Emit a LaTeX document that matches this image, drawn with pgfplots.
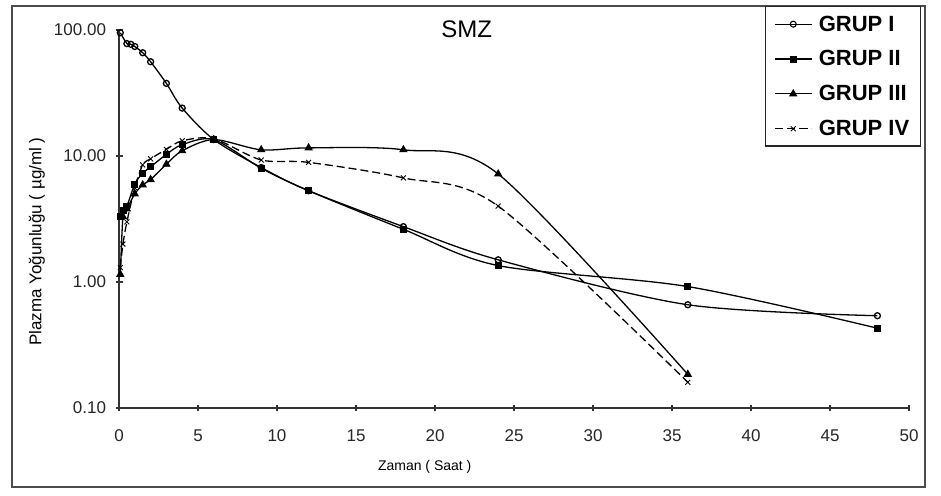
\documentclass[border=0pt]{standalone}
\usepackage{fontspec}
\setmainfont{Liberation Sans}
\usepackage{pgfplots}
\pgfplotsset{compat=1.18}
\begin{document}
\begin{tikzpicture}
\useasboundingbox (0,0) rectangle (941pt,495pt);
\fill[white] (0,0) rectangle (941pt,495pt);
\draw[line width=1.8pt, black!70] (12pt,8pt) rectangle (925pt,489pt);
\begin{axis}[
  at={(119pt,87pt)}, anchor=south west,
  scale only axis, width=790pt, height=378pt,
  ymode=log, xmin=0, xmax=50, ymin=0.1, ymax=100,
  axis lines=left, axis line style={-, line width=1.2pt, black!80},
  xtick={0,5,...,50},
  ytick={0.1,1,10,100}, yticklabels={0.10,1.00,10.00,100.00},
  yminorticks=false,
  tick align=center, major tick length=7pt,
  tick style={line width=1.1pt, black!80},
  ticklabel style={font=\fontsize{17}{17}\selectfont, black!85},
  yticklabel style={xshift=-6pt},
  xticklabel style={yshift=-15pt},
  /pgf/number format/assume math mode=true,
  xlabel={Zaman ( Saat )},
  ylabel={Plazma Yoğunluğu ( µg/ml )},
  x label style={at={(axis description cs:0.387,-0.156)}, anchor=center, font=\fontsize{14}{14}\selectfont},
  y label style={at={(axis description cs:-0.104,0.44)}, anchor=center, rotate=0, font=\fontsize{17}{17}\selectfont},
  title={SMZ},
  title style={at={(axis description cs:0.44,0.987)}, anchor=center, yshift=0pt, font=\fontsize{24}{24}\selectfont},
  clip=false,
  every axis plot/.append style={line width=1.3pt, black, smooth, mark options={solid, line width=0.9pt}},
  legend style={at={(axis description cs:1.0152,1.0635)}, anchor=north east,
    draw=black!85, line width=1.5pt, fill=white,
    font=\bfseries\fontsize{22}{24}\selectfont,
    row sep=14pt, inner xsep=9pt, inner ysep=7pt,
    /tikz/every odd column/.append style={column sep=5pt}},
  legend cell align=left,
  legend image code/.code={\draw[mark repeat=2, mark phase=2, #1, line width=1.1pt] plot coordinates {(0pt,0pt) (18pt,0pt) (36pt,0pt)};},
]
\addplot[mark=o, mark size=3pt, mark options={fill=white}] coordinates {
  (0.083,95) (0.5,78) (0.75,77) (1,74) (1.5,66) (2,56) (3,37.7) (4,24)
  (6,13.5) (9,8.1) (12,5.3) (18,2.75) (24,1.5) (36,0.66) (48,0.54)};
\addlegendentry{GRUP I}
\addplot[mark=square*, mark size=3pt] coordinates {
  (0.083,3.3) (0.25,3.7) (0.5,4.0) (1,6.0) (1.5,7.3) (2,8.2) (3,10.3) (4,12.3)
  (6,13.5) (9,8.0) (12,5.3) (18,2.62) (24,1.35) (36,0.92) (48,0.43)};
\addlegendentry{GRUP II}
\addplot[mark=triangle*, mark size=4pt] coordinates {
  (0.083,1.15) (0.25,3.3) (0.5,3.8) (1,5.0) (1.5,5.9) (2,6.5) (3,8.6) (4,11.0)
  (6,13.5) (9,11.2) (12,11.6) (18,11.2) (24,7.2) (36,0.185)};
\addlegendentry{GRUP III}
\addplot[mark=x, mark size=3.5pt, dash pattern=on 8pt off 4pt] coordinates {
  (0.083,1.3) (0.25,2.0) (0.5,3.0) (1,5.6) (1.5,8.5) (2,9.5) (3,11.3) (4,13.2)
  (6,13.7) (9,9.3) (12,8.9) (18,6.7) (24,4.0) (36,0.16)};
\addlegendentry{GRUP IV}
\end{axis}
\end{tikzpicture}
\end{document}
